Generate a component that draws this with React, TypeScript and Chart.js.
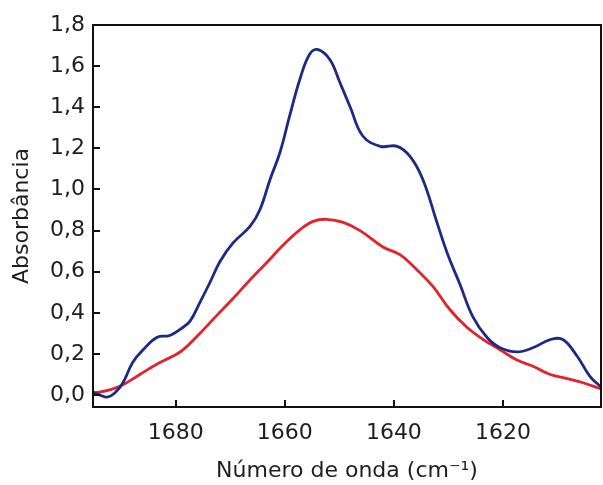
import React, { useEffect, useRef } from "react";
import { Chart, registerables } from "chart.js";

Chart.register(...registerables);

// Blue spectrum (wavenumber, absorbance)
const blueX = [1695.2, 1693.9, 1692.6, 1691.2, 1689.7, 1687.9, 1686.0, 1683.5, 1681.1, 1679.2, 1677.4, 1675.6, 1673.7, 1671.9, 1669.5, 1666.4, 1664.6, 1662.7, 1660.9, 1659.1, 1657.2, 1655.4, 1653.9, 1651.7, 1649.9, 1648.0, 1645.7, 1642.5, 1639.4, 1637.0, 1634.7, 1632.1, 1630.2, 1627.9, 1625.5, 1622.9, 1620.5, 1617.4, 1614.5, 1611.3, 1609.0, 1606.4, 1604.0, 1602.0];
const blueY = [0.015, 0.0, -0.01, 0.01, 0.06, 0.16, 0.22, 0.28, 0.29, 0.32, 0.36, 0.45, 0.55, 0.65, 0.74, 0.82, 0.9, 1.05, 1.18, 1.36, 1.54, 1.66, 1.68, 1.63, 1.52, 1.4, 1.26, 1.21, 1.21, 1.16, 1.05, 0.84, 0.69, 0.54, 0.38, 0.28, 0.23, 0.21, 0.23, 0.27, 0.27, 0.19, 0.09, 0.04];

// Red spectrum (wavenumber, absorbance)
const redX = [1695.2, 1692.1, 1689.7, 1686.6, 1683.5, 1680.5, 1678.7, 1675.6, 1672.4, 1669.5, 1666.4, 1663.3, 1660.3, 1657.2, 1654.8, 1652.3, 1649.3, 1646.2, 1642.0, 1638.9, 1635.8, 1632.8, 1629.7, 1626.6, 1623.6, 1620.5, 1617.4, 1614.5, 1611.3, 1608.2, 1605.3, 1602.0];
const redY = [0.01, 0.025, 0.05, 0.1, 0.15, 0.19, 0.22, 0.3, 0.39, 0.47, 0.56, 0.645, 0.73, 0.805, 0.845, 0.855, 0.84, 0.8, 0.72, 0.683, 0.61, 0.527, 0.415, 0.33, 0.27, 0.22, 0.17, 0.14, 0.1, 0.08, 0.06, 0.03];

const xTicks = [1680, 1660, 1640, 1620];
const yTicks = [0, 0.2, 0.4, 0.6, 0.8, 1.0, 1.2, 1.4, 1.6, 1.8];

const FONT = "'DejaVu Sans', Roboto, sans-serif";
const TEXT = "#1e1e1e";

const framePlugin = {
  id: "frameTicks",
  afterDraw(chart: any) {
    const { ctx, chartArea, scales } = chart;
    const { left, top, right, bottom } = chartArea;
    ctx.save();
    ctx.strokeStyle = "#111111";
    ctx.lineWidth = 2;
    ctx.strokeRect(left, top, right - left, bottom - top);
    ctx.beginPath();
    xTicks.forEach((v) => {
      const px = Math.round(scales.x.getPixelForValue(v));
      ctx.moveTo(px, bottom);
      ctx.lineTo(px, bottom - 7);
    });
    yTicks.forEach((v) => {
      const py = Math.round(scales.y.getPixelForValue(v));
      ctx.moveTo(left, py);
      ctx.lineTo(left + 7, py);
    });
    ctx.stroke();
    ctx.restore();
  },
};

export default function App() {
  const ref = useRef<HTMLCanvasElement | null>(null);
  useEffect(() => {
    if (!ref.current) return;
    const chart = new Chart(ref.current, {
      type: "line",
      data: {
        datasets: [
          {
            data: blueX.map((x, i) => ({ x, y: blueY[i] })),
            borderColor: "#1c2a86",
            borderWidth: 2.8,
            pointRadius: 0,
            tension: 0.4,
            fill: false,
          },
          {
            data: redX.map((x, i) => ({ x, y: redY[i] })),
            borderColor: "#e3222b",
            borderWidth: 2.8,
            pointRadius: 0,
            tension: 0.4,
            fill: false,
          },
        ],
      },
      options: {
        responsive: false,
        animation: false,
        layout: { padding: { top: 25, right: 2, left: 0, bottom: 0 } },
        plugins: { legend: { display: false }, tooltip: { enabled: false } },
        scales: {
          x: {
            type: "linear",
            reverse: true,
            min: 1602,
            max: 1695.2,
            grid: { display: false, drawTicks: false },
            border: { display: false },
            afterBuildTicks: (s: any) => {
              s.ticks = xTicks.map((v) => ({ value: v }));
            },
            afterFit: (s: any) => {
              s.height = 78;
            },
            ticks: {
              padding: 13,
              color: TEXT,
              font: { family: FONT, size: 22 },
              callback: (v: any) => String(v),
              maxRotation: 0,
            },
            title: {
              display: true,
              text: "Número de onda (cm⁻¹)",
              color: TEXT,
              font: { family: FONT, size: 22 },
              padding: { top: 0, bottom: 1 },
            },
          },
          y: {
            min: -0.058,
            max: 1.8,
            grid: { display: false, drawTicks: false },
            border: { display: false },
            afterBuildTicks: (s: any) => {
              s.ticks = yTicks.map((v) => ({ value: v }));
            },
            afterFit: (s: any) => {
              s.width = 93;
            },
            ticks: {
              padding: 8,
              color: TEXT,
              font: { family: FONT, size: 22 },
              callback: (v: any) => Number(v).toFixed(1).replace(".", ","),
            },
            title: {
              display: true,
              text: "Absorbância",
              color: TEXT,
              font: { family: FONT, size: 22 },
              padding: { top: 9, bottom: 0 },
            },
          },
        },
      },
      plugins: [framePlugin],
    });
    return () => chart.destroy();
  }, []);
  return (
    <div style={{ position: "absolute", left: 0, top: 0, width: 603, height: 485, background: "#fff" }}>
      <canvas ref={ref} width={603} height={485} style={{ width: 603, height: 485 }} />
    </div>
  );
}
